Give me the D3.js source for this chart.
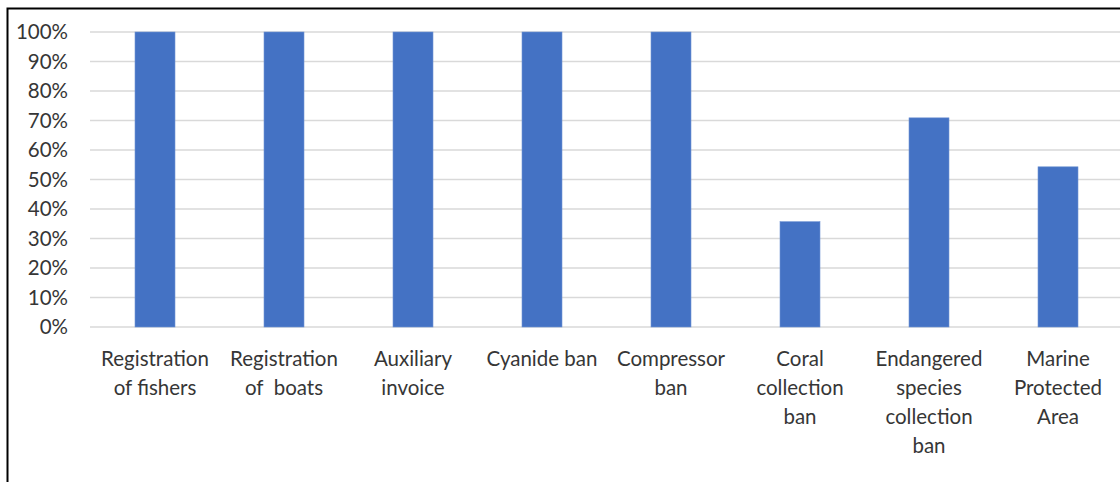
<!DOCTYPE html>
<html>
<head>
<meta charset="utf-8">
<script src="https://cdn.jsdelivr.net/npm/d3@7"></script>
<style>
  html, body { margin: 0; padding: 0; background: #fff; }
  svg { display: block; }
</style>
</head>
<body>
<svg id="chart" width="1120" height="482"></svg>
<script>
// Share of sites with each management measure in place
const categories = [
  "Registration\nof fishers",
  "Registration\nof  boats",
  "Auxiliary\ninvoice",
  "Cyanide ban",
  "Compressor\nban",
  "Coral\ncollection\nban",
  "Endangered\nspecies\ncollection\nban",
  "Marine\nProtected\nArea"
];
const values = [1.00, 1.00, 1.00, 1.00, 1.00, 0.357, 0.709, 0.543];
const yTicks = [0, 0.1, 0.2, 0.3, 0.4, 0.5, 0.6, 0.7, 0.8, 0.9, 1.0];

const svg = d3.select("#chart");
const font = "Lato, 'Open Sans', sans-serif";
const textColor = "#363636";

// outer frame (left and top edges)
svg.append("path")
  .attr("d", "M7.5,482 V8.5 H1120")
  .attr("fill", "none")
  .attr("stroke", "#000")
  .attr("stroke-width", 2);

const x = d3.scaleBand()
  .domain(d3.range(categories.length))
  .range([90.5, 1122.5])
  .paddingInner(0.69)
  .paddingOuter(0.345);

const y = d3.scaleLinear().domain([0, 1]).range([327, 32]);

// horizontal gridlines
svg.append("g")
  .selectAll("line")
  .data(yTicks)
  .join("line")
  .attr("x1", 90)
  .attr("x2", 1120)
  .attr("y1", d => y(d))
  .attr("y2", d => y(d))
  .attr("stroke", "#d9d9d9")
  .attr("stroke-width", 1.6);

// y axis labels
const yAxis = d3.axisLeft(y)
  .tickValues(yTicks)
  .tickFormat(d3.format(".0%"))
  .tickSize(0)
  .tickPadding(0);

svg.append("g")
  .attr("transform", "translate(68,0)")
  .call(yAxis)
  .call(g => g.select(".domain").remove())
  .call(g => g.selectAll("text")
    .attr("font-family", font)
    .attr("font-size", 20.5)
    .attr("fill", textColor));

// bars
svg.append("g")
  .selectAll("rect")
  .data(values)
  .join("rect")
  .attr("x", (d, i) => x(i))
  .attr("width", x.bandwidth())
  .attr("y", d => y(d))
  .attr("height", d => y(0) - y(d))
  .attr("fill", "#4472c4")
  .attr("stroke", "#6f93d3")
  .attr("stroke-width", 0.6);

// category labels, wrapped over several lines
const labels = svg.append("g")
  .selectAll("text")
  .data(categories)
  .join("text")
  .attr("x", (d, i) => x(i) + x.bandwidth() / 2)
  .attr("y", 366)
  .attr("text-anchor", "middle")
  .attr("font-family", font)
  .attr("font-size", 20.5)
  .attr("fill", textColor)
  .attr("xml:space", "preserve")
  .style("white-space", "pre");

labels.each(function (d, i) {
  const t = d3.select(this);
  d.split("\n").forEach((line, k) => {
    t.append("tspan")
      .attr("x", x(i) + x.bandwidth() / 2)
      .attr("dy", k === 0 ? 0 : 29)
      .text(line);
  });
});
</script>
</body>
</html>
